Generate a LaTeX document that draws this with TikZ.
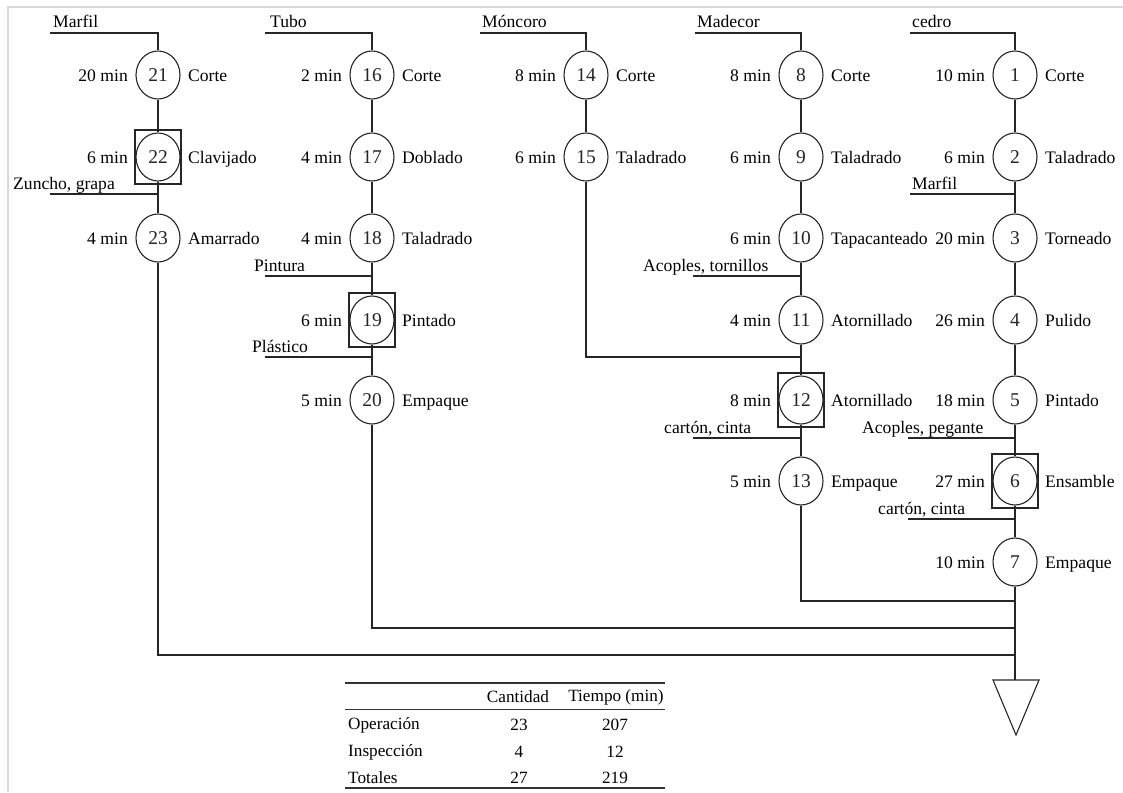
\documentclass[tikz,border=0pt]{standalone}
\usepackage{fontspec}
\setmainfont{Liberation Serif}
\usetikzlibrary{shapes.geometric}

% One process step: circle with its number, time on the left, operation on the right
\newcommand\procstep[6]{%
  \node[op] (#1) at (#2,#3) {#4};
  \node[anchor=base east] (#1t) at ([shift={(-30,6.5)}]#1.center) {#5};
  \node[anchor=base west] (#1l) at ([shift={(30,6.5)}]#1.center) {#6};
}
% Square drawn round a circle: combined operation and inspection
\newcommand\inspframe[1]{%
  \draw[flow] ([shift={(-23pt,-27pt)}]#1.center) rectangle ([shift={(23pt,27pt)}]#1.center);
}
% Material entering a line: label above a horizontal line ending on the column
\newcommand\supply[6]{%
  \coordinate (#1) at (#2,#3);
  \node[anchor=base west] (#1txt) at (#4,#5) {#6};
}

\begin{document}
\begin{tikzpicture}[x=1pt,y=-1pt,
  every node/.style={font=\fontsize{17.6}{20}\selectfont, inner sep=0pt},
  flow/.style={line width=1.1pt, black!85},
  op/.style={ellipse, draw, flow, minimum width=44pt, minimum height=48pt,
    font=\fontsize{19.5}{22}\selectfont},
  tabtext/.style={font=\fontsize{17.2}{20}\selectfont},
  rulethick/.style={line width=1.5pt, black!80},
  rulethin/.style={line width=1pt, black!80}]
\useasboundingbox (0,0) rectangle (1123,792);
\fill[white] (0,0) rectangle (1123,792);
\draw[line width=2pt, black!15] (7.5,792) -- (7.5,7.5) -- (1123,7.5);

% ---- Marfil line
\procstep{c21}{158}{75}{21}{20 min}{Corte}
\procstep{c22}{158}{157}{22}{6 min}{Clavijado}
\procstep{c23}{158}{238}{23}{4 min}{Amarrado}
\inspframe{c22}

% ---- Tubo line
\procstep{c16}{372}{75}{16}{2 min}{Corte}
\procstep{c17}{372}{157}{17}{4 min}{Doblado}
\procstep{c18}{372}{238}{18}{4 min}{Taladrado}
\procstep{c19}{372}{320}{19}{6 min}{Pintado}
\procstep{c20}{372}{400}{20}{5 min}{Empaque}
\inspframe{c19}

% ---- Móncoro line
\procstep{c14}{586}{75}{14}{8 min}{Corte}
\procstep{c15}{586}{157}{15}{6 min}{Taladrado}

% ---- Madecor line
\procstep{c8}{801}{75}{8}{8 min}{Corte}
\procstep{c9}{801}{157}{9}{6 min}{Taladrado}
\procstep{c10}{801}{238}{10}{6 min}{Tapacanteado}
\procstep{c11}{801}{320}{11}{4 min}{Atornillado}
\procstep{c12}{801}{400}{12}{8 min}{Atornillado}
\procstep{c13}{801}{481}{13}{5 min}{Empaque}
\inspframe{c12}

% ---- cedro line
\procstep{c1}{1015}{75}{1}{10 min}{Corte}
\procstep{c2}{1015}{157}{2}{6 min}{Taladrado}
\procstep{c3}{1015}{238}{3}{20 min}{Torneado}
\procstep{c4}{1015}{320}{4}{26 min}{Pulido}
\procstep{c5}{1015}{400}{5}{18 min}{Pintado}
\procstep{c6}{1015}{481}{6}{27 min}{Ensamble}
\procstep{c7}{1015}{562}{7}{10 min}{Empaque}
\inspframe{c6}

% ---- materials
\supply{sMarfil}{50}{33}{53}{28}{Marfil}
\supply{sTubo}{265}{33}{270}{28}{Tubo}
\supply{sMoncoro}{480}{33}{482}{28}{Móncoro}
\supply{sMadecor}{695}{33}{697}{28}{Madecor}
\supply{sCedro}{910}{33}{912}{28}{cedro}
\supply{sZuncho}{50}{194}{13}{189}{Zuncho, grapa}
\supply{sMarfilB}{910}{194}{912}{189}{Marfil}
\supply{sPintura}{265}{276}{254}{271}{Pintura}
\supply{sPlastico}{265}{357}{252}{352}{Plástico}
\supply{sAcoplesT}{693}{276}{643}{271}{Acoples, tornillos}
\supply{sCartonA}{693}{438}{664}{433}{cartón, cinta}
\supply{sAcoplesP}{908}{438}{862}{433}{Acoples, pegante}
\supply{sCartonB}{908}{519}{878}{514}{cartón, cinta}

\draw[flow] (sMarfil) -| (c21);
\draw[flow] (sTubo) -| (c16);
\draw[flow] (sMoncoro) -| (c14);
\draw[flow] (sMadecor) -| (c8);
\draw[flow] (sCedro) -| (c1);
\draw[flow] (sZuncho) -- (sZuncho -| c22);
\draw[flow] (sMarfilB) -- (sMarfilB -| c2);
\draw[flow] (sPintura) -- (sPintura -| c18);
\draw[flow] (sPlastico) -- (sPlastico -| c19);
\draw[flow] (sAcoplesT) -- (sAcoplesT -| c10);
\draw[flow] (sCartonA) -- (sCartonA -| c12);
\draw[flow] (sAcoplesP) -- (sAcoplesP -| c5);
\draw[flow] (sCartonB) -- (sCartonB -| c6);

% ---- flow within each line
\draw[flow] (c21) -- (c22) -- (c23);
\draw[flow] (c16) -- (c17) -- (c18) -- (c19) -- (c20);
\draw[flow] (c14) -- (c15);
\draw[flow] (c8) -- (c9) -- (c10) -- (c11) -- (c12) -- (c13);
\draw[flow] (c1) -- (c2) -- (c3) -- (c4) -- (c5) -- (c6) -- (c7);

% ---- joins into the final assembly line
\coordinate (j15) at (801,357);
\coordinate (j13) at (1015,601);
\coordinate (j20) at (1015,628);
\coordinate (j23) at (1015,655);
\draw[flow] (c15) |- (j15);
\draw[flow] (c13) |- (j13);
\draw[flow] (c20) |- (j20);
\draw[flow] (c23) |- (j23);

% ---- storage
\coordinate (store) at (1015,680);
\draw[flow] (c7) -- (store);
\draw[flow, line join=miter] (993,680) -- (1039,680) -- (1016,735) -- cycle;

% ---- summary table
\draw[rulethick] (345,683) -- (665,683);
\draw[rulethin] (345,709) -- (665,709);
\draw[rulethick] (345,788) -- (665,788);
\begin{scope}[every node/.append style={tabtext}]
\node (hCant) at (518,697) {Cantidad};
\node (hTiem) at (616,697) {Tiempo (min)};
\node[anchor=west] (rOp) at (348,725) {Operación};
\node[anchor=west] (rIn) at (348,752) {Inspección};
\node[anchor=west] (rTo) at (348,778) {Totales};
\node (vOpC) at (519,725) {23};
\node (vOpT) at (615,725) {207};
\node (vInC) at (519,752) {4};
\node (vInT) at (615,752) {12};
\node (vToC) at (519,778) {27};
\node (vToT) at (615,778) {219};
\end{scope}
\end{tikzpicture}
\end{document}
